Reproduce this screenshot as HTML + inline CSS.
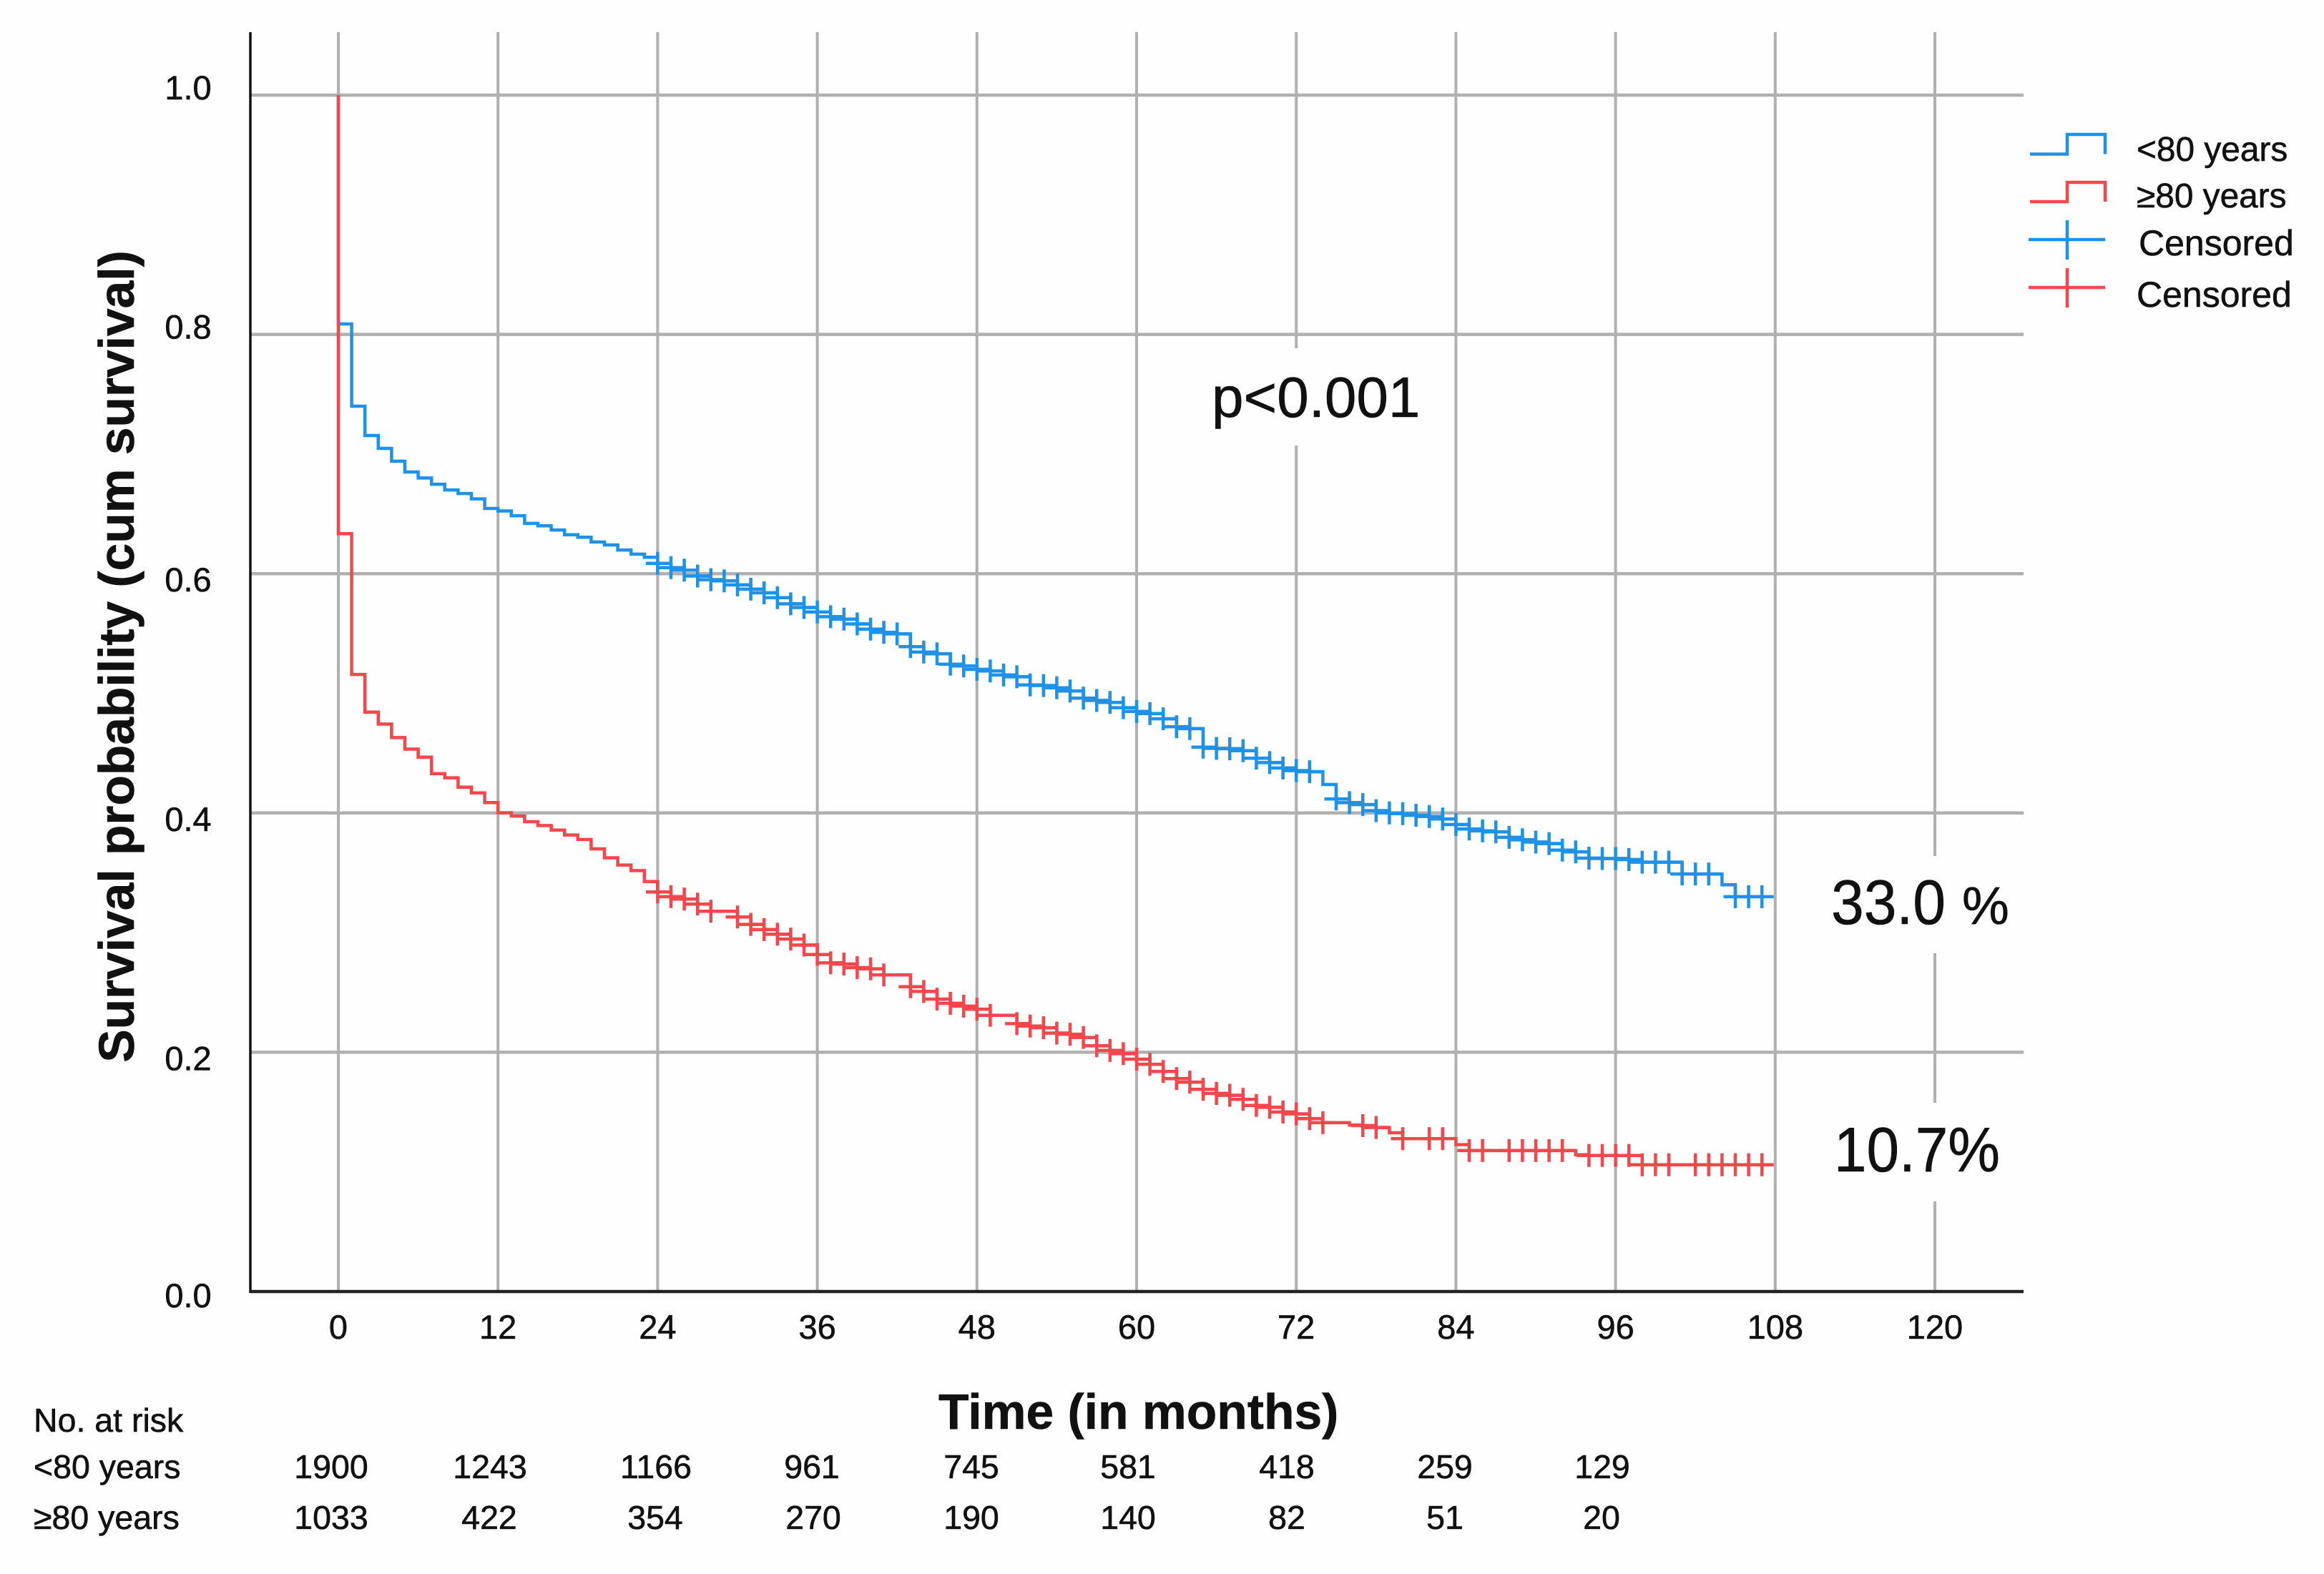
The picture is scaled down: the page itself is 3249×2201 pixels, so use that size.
<!DOCTYPE html>
<html lang="en">
<head>
<meta charset="utf-8">
<title>Survival probability by age group</title>
<style>
html,body{margin:0;padding:0;background:#fff;}
svg{display:block;}
text{font-family:"Liberation Sans",Arial,sans-serif;fill:#111;stroke:#111;stroke-width:0.6px;}
</style>
</head>
<body>
<svg id="chart" width="3249" height="2201" viewBox="0 0 3249 2201" xmlns="http://www.w3.org/2000/svg">
  <rect x="0" y="0" width="3249" height="2201" fill="#fefefe"/>
  <g id="grid"></g>
  <rect x="1700" y="487" width="285" height="136" fill="#fefefe"/>
  <rect x="2540" y="1197" width="285" height="136" fill="#fefefe"/>
  <rect x="2540" y="1542" width="285" height="138" fill="#fefefe"/>
  <g id="axes"></g>
  <g id="ticks" font-size="47"></g>
  <g id="series"></g>

  <text transform="translate(187 918) rotate(-90)" text-anchor="middle" font-size="69.5" font-weight="700">Survival probability (cum survival)</text>
  <text x="1312" y="1998" font-size="69.6" font-weight="700">Time (in months)</text>

  <text x="1694" y="583" font-size="80">p&lt;0.001</text>
  <text x="2560" y="1292" font-size="88" textLength="160" lengthAdjust="spacingAndGlyphs">33.0</text>
  <text x="2743" y="1292" font-size="74">%</text>
  <text x="2564" y="1638" font-size="88" textLength="232" lengthAdjust="spacingAndGlyphs">10.7%</text>

  <g>
    <g>
      <path d="M2838 215.5H2890V188H2943V215.5" fill="none" stroke="#1d92e8" stroke-width="4.5"/>
      <text x="2987" y="225" font-size="47.8">&lt;80 years</text>
    </g>
    <g>
      <path d="M2838 282H2890V255H2943V282" fill="none" stroke="#f4474c" stroke-width="4.5"/>
      <text x="2987" y="290" font-size="47.8">≥80 years</text>
    </g>
    <g>
      <path d="M2836 335H2943M2890 308V363" fill="none" stroke="#1d92e8" stroke-width="4.5"/>
      <text x="2990" y="357" font-size="50">Censored</text>
    </g>
    <g>
      <path d="M2836 402H2943M2890 375V430" fill="none" stroke="#f4474c" stroke-width="4.5"/>
      <text x="2987" y="429" font-size="50">Censored</text>
    </g>
  </g>

  <g font-size="46.5">
    <text x="47" y="2002">No. at risk</text>
    <g text-anchor="middle">
      <text x="47" y="2067" text-anchor="start">&lt;80 years</text>
      <text x="463" y="2067">1900</text>
      <text x="685" y="2067">1243</text>
      <text x="917" y="2067">1166</text>
      <text x="1135" y="2067">961</text>
      <text x="1358" y="2067">745</text>
      <text x="1577" y="2067">581</text>
      <text x="1799" y="2067">418</text>
      <text x="2020" y="2067">259</text>
      <text x="2240" y="2067">129</text>
    </g>
    <g text-anchor="middle">
      <text x="47" y="2138" text-anchor="start">≥80 years</text>
      <text x="463" y="2138">1033</text>
      <text x="684" y="2138">422</text>
      <text x="916" y="2138">354</text>
      <text x="1137" y="2138">270</text>
      <text x="1358" y="2138">190</text>
      <text x="1577" y="2138">140</text>
      <text x="1799" y="2138">82</text>
      <text x="2020" y="2138">51</text>
      <text x="2239" y="2138">20</text>
    </g>
  </g>
</svg>

<script>
// Axis tick values
const xTickValues = [0, 12, 24, 36, 48, 60, 72, 84, 96, 108, 120];
const yTickValues = [1.0, 0.8, 0.6, 0.4, 0.2, 0.0];
const yTickLabels = ["1.0", "0.8", "0.6", "0.4", "0.2", "0.0"];

// Survival level held from month i to month i+1 (index = month)
const survivalUnder80 = [
  0.8087, 0.740, 0.7155, 0.7047, 0.694, 0.685, 0.680, 0.6748, 0.670, 0.667, 0.6625, 0.6545,
  0.6524, 0.6485, 0.642, 0.640, 0.6365, 0.6325, 0.6305, 0.6265, 0.624, 0.6198, 0.6163, 0.6137,
  0.6086, 0.605, 0.603, 0.598, 0.595, 0.594, 0.5906, 0.587, 0.584, 0.580, 0.5748, 0.5717,
  0.568, 0.564, 0.562, 0.558, 0.5537, 0.551, 0.5497, 0.539, 0.5345, 0.533, 0.5244, 0.5229,
  0.520, 0.5187, 0.5153, 0.5138, 0.507, 0.5065, 0.5046, 0.502, 0.496, 0.494, 0.4924, 0.488,
  0.4848, 0.483, 0.4787, 0.472, 0.4705, 0.455, 0.454, 0.4537, 0.452, 0.4458, 0.4421, 0.4376,
  0.4354, 0.4345, 0.4238, 0.4117, 0.4086, 0.407, 0.4019, 0.400, 0.3994, 0.398, 0.397, 0.3949,
  0.3903, 0.3866, 0.385, 0.3842, 0.3796, 0.3775, 0.3757, 0.3744, 0.369, 0.3674, 0.3622, 0.3619,
  0.3619, 0.361, 0.3589, 0.3589, 0.3589, 0.349, 0.349, 0.349, 0.340, 0.330, 0.330, 0.330
];
const survivalOver80 = [
  0.6334, 0.5158, 0.4843, 0.4743, 0.463, 0.4534, 0.4466, 0.4328, 0.4294, 0.4215, 0.4168, 0.4087,
  0.4002, 0.3974, 0.3927, 0.3895, 0.3857, 0.3816, 0.3778, 0.370, 0.3625, 0.3565, 0.3518, 0.3427,
  0.334, 0.330, 0.328, 0.3238, 0.3179, 0.3179, 0.3131, 0.3069, 0.3025, 0.2986, 0.2946, 0.2896,
  0.2817, 0.2747, 0.2737, 0.2707, 0.2697, 0.2647, 0.2647, 0.2548, 0.2508, 0.2444, 0.2409, 0.2385,
  0.2359, 0.2309, 0.2309, 0.2239, 0.2219, 0.2205, 0.216, 0.215, 0.2124, 0.2054, 0.2015, 0.1988,
  0.1942, 0.1899, 0.1839, 0.178, 0.175, 0.169, 0.1656, 0.164, 0.1606, 0.1556, 0.154, 0.150,
  0.1485, 0.1445, 0.1411, 0.1411, 0.1391, 0.1387, 0.1371, 0.1327, 0.1278, 0.1278, 0.1278, 0.1278,
  0.1228, 0.1178, 0.1178, 0.1178, 0.1178, 0.1178, 0.1178, 0.1178, 0.1178, 0.1143, 0.1137, 0.1137,
  0.1137, 0.1137, 0.106, 0.106, 0.106, 0.106, 0.106, 0.106, 0.106, 0.106, 0.106, 0.106
];

// Months with a censoring mark
const censoredUnder80 = [
  24,25,26,27,28,29,30,31,32,33,34,35,36,37,38,39,40,41,42,43,44,45,46,47,48,49,50,51,52,53,54,55,
  56,57,58,59,60,61,62,63,64,65,66,67,68,69,70,71,72,73,75,76,77,78,79,80,81,82,83,84,85,86,87,88,
  89,90,91,92,93,94,95,96,97,98,99,100,101,102,103,105,106,107
];
const censoredOver80 = [
  24,25,26,27,28,30,31,32,33,34,35,36,37,38,39,40,41,43,44,45,46,47,48,49,51,52,53,54,55,56,57,58,
  59,60,61,62,63,64,65,66,67,68,69,70,71,72,73,74,77,78,80,82,83,85,86,88,89,90,91,92,94,95,96,97,
  98,99,100,102,103,104,105,106,107
];

// Axis functions
function xScale(month) { return 473 + month * 18.6; }
function yScale(survival) { return 1806 - survival * 1673; }

const SVG_NS = "http://www.w3.org/2000/svg";
const gridGroup = document.getElementById("grid");
const axesGroup = document.getElementById("axes");
const ticksGroup = document.getElementById("ticks");
const seriesGroup = document.getElementById("series");

function makeEl(tag, attrs) {
  const el = document.createElementNS(SVG_NS, tag);
  Object.keys(attrs).forEach(function (key) { el.setAttribute(key, attrs[key]); });
  return el;
}

// Gridlines and tick labels
const gridColor = "#b0b0b0";
xTickValues.forEach(function (value) {
  const line = makeEl("line", { x1: xScale(value), x2: xScale(value), y1: 45, y2: yScale(0), stroke: gridColor, "stroke-width": 4 });
  
  
  gridGroup.appendChild(line);

  const label = makeEl("text", { x: xScale(value), y: 1872, "text-anchor": "middle" });
  
  
  label.textContent = String(value);
  ticksGroup.appendChild(label);
});

yTickValues.forEach(function (value, i) {
  if (value > 0) {
    const line = makeEl("line", { x1: 350, x2: 2829, y1: yScale(value), y2: yScale(value), stroke: gridColor, "stroke-width": 4.5 });
    
    
    gridGroup.appendChild(line);
  }
  const upper = value >= 0.8;
  const baseline = value === 0 ? 22 : (upper ? 6 : 25);
  const label = makeEl("text", { x: 263, y: yScale(value) + baseline, "text-anchor": "middle" });
  
  
  label.textContent = yTickLabels[i];
  ticksGroup.appendChild(label);
});

// Axis lines
const yAxisLine = makeEl("line", { x1: 350, x2: 350, y1: 45, y2: yScale(0) + 2, stroke: "#111", "stroke-width": 3.5 });


axesGroup.appendChild(yAxisLine);

const xAxisLine = makeEl("line", { x1: 350, x2: 2829, y1: yScale(0), y2: yScale(0), stroke: "#222", "stroke-width": 4.5 });


axesGroup.appendChild(xAxisLine);

// Step curve built from a survival array
function stepPath(levels) {
  let d = "M" + xScale(0) + " " + yScale(1);
  levels.forEach(function (level, month) {
    d += "V" + yScale(level).toFixed(1);
    d += "H" + xScale(Math.min(month + 1, levels.length - 1)).toFixed(1);
  });
  return d;
}

// Censoring crosses, each sitting on the level held at its month
function crossPath(levels, months) {
  let d = "";
  months.forEach(function (month) {
    const cx = xScale(month);
    const cy = yScale(levels[month]);
    d += "M" + (cx - 16.5).toFixed(1) + " " + cy.toFixed(1) + "h33";
    d += "M" + cx.toFixed(1) + " " + (cy - 16).toFixed(1) + "v32";
  });
  return d;
}

const blueColor = "#1d92e8";
const redColor = "#f4474c";

const blueLine = makeEl("path", { d: stepPath(survivalUnder80), fill: "none", stroke: blueColor, "stroke-width": 4.5 });


seriesGroup.appendChild(blueLine);

const blueCrosses = makeEl("path", { d: crossPath(survivalUnder80, censoredUnder80), fill: "none", stroke: blueColor, "stroke-width": 4.5 });


seriesGroup.appendChild(blueCrosses);

const redLine = makeEl("path", { d: stepPath(survivalOver80), fill: "none", stroke: redColor, "stroke-width": 4.5 });


seriesGroup.appendChild(redLine);

const redCrosses = makeEl("path", { d: crossPath(survivalOver80, censoredOver80), fill: "none", stroke: redColor, "stroke-width": 4.5 });


seriesGroup.appendChild(redCrosses);
</script>
</body>
</html>
